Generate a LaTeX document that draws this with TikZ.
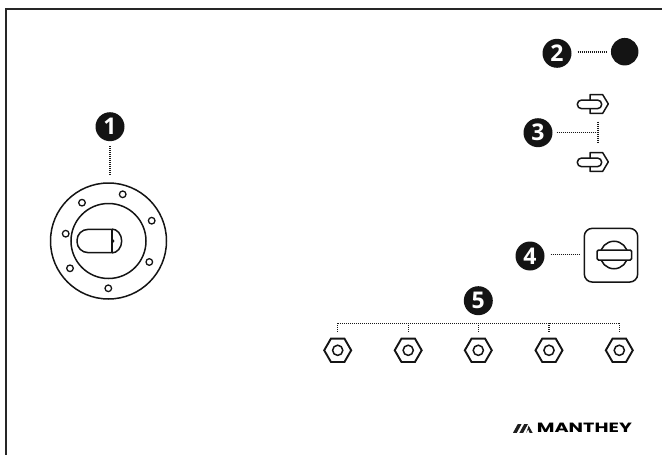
\documentclass[tikz,border=0pt]{standalone}
\usepackage{fontspec}
\setmainfont{Open Sans}
\newfontfamily\logofont{Poppins}
\usetikzlibrary{shapes.geometric}
\tikzset{
  x=1pt,y=-1pt,
  ink/.style={draw=black!92,line width=1.5pt},
  badge/.style={circle,fill=black!92,text=white,minimum size=29pt,inner sep=0pt,font=\fontsize{23}{23}\selectfont\bfseries},
  dots/.style={draw=black!90,line width=1.05pt,dash pattern=on 1pt off 1pt},
  hole/.style={circle,ink,line width=1.3pt,fill=white,minimum size=6.6pt,inner sep=0pt},
  nut/.style={regular polygon,regular polygon sides=6,ink,line width=1.9pt,minimum size=27pt,inner sep=0pt},
  nuteye/.style={circle,ink,minimum size=10.2pt,inner sep=0pt},
  disc/.style={circle,ink,minimum size=#1,inner sep=0pt}
}
\newcommand{\boltshape}[1]{%
  \draw[ink,line join=round,shift={(0,#1)}] (590,100) -- (590,94.7) -- (602.7,94.7) -- (608.3,103.9) -- (602.7,113.3) -- (590,113.3) -- (590,108.7);
  \draw[ink,rounded corners=4.3pt,shift={(0,#1)}] (577.3,100) rectangle (601.7,108.7);
}
\begin{document}
\begin{tikzpicture}
\useasboundingbox (0,0) rectangle (662,455);
% page frame
\draw[draw=black!85,line width=1.2pt] (6,455) -- (6,9) -- (662,9);

% item 1
\node[disc=116pt] (outer) at (108.5,241) {};
\node[disc=75pt] (inner) at (108.5,241) {};
\foreach \n/\px/\py in {a/122.7/194.3,b/82/202.7,c/151.7/220.7,d/65.7/233.7,e/149.3/262,f/70/268.3,g/108.3/288.3}
  \node[hole] (h\n) at (\px,\py) {};
\draw[ink] (111.7,229) arc[start angle=90,end angle=-90,x radius=10pt,y radius=12pt];
\draw[ink,rounded corners=11pt] (111.7,229.4) -- (77,229.4) -- (77,252.6) -- (111.7,252.6);
\draw[black!92,line width=1.9pt] (111.7,229) -- (111.7,253);
\fill[black!92] (111.7,237.5) -- (114.5,241) -- (111.7,244.5) -- cycle;
\node[badge] (b1) at (110,126.7) {1};
\coordinate (c1) at (110,176);
\draw[dots,shorten <=5pt] (b1) -- (c1);

% item 2
\node[badge] (b2) at (557,53.3) {2};
\node[circle,fill=black!92,minimum size=27.5pt,inner sep=0pt] (dot) at (624.7,51.7) {};
\coordinate (c2) at (606,52);
\draw[dots,shorten <=6pt] (b2.east |- c2) -- (c2);

% item 3
\boltshape{0}
\boltshape{58}
\node[badge] (b3) at (538,132.7) {3};
\coordinate (c3) at (598,132.7);
\coordinate (c3a) at (598,121.7);
\coordinate (c3b) at (598,143);
\draw[dots,shorten <=4pt] (b3) -- (c3);
\draw[dots] (c3a) -- (c3b);

% item 4
\node[badge] (b4) at (530,256) {4};
\node[draw=black!92,line width=1.5pt,rounded corners=8pt,minimum width=53.4pt,minimum height=53.7pt,inner sep=0pt] (plate) at (611,255.2) {};
\node[disc=27.5pt] (knob) at (614,255) {};
\draw[ink,fill=white,rounded corners=1.5pt] (597,250) rectangle (631.7,260);
\coordinate (c4) at (579,254.7);
\draw[dots,shorten <=6pt] (b4.east |- c4) -- (c4);

% item 5
\node[badge] (b5) at (478.3,300.7) {5};
\coordinate (busl) at (338,323.3);
\coordinate (busr) at (619.5,323.3);
\draw[dots] (busl) -- (busr);
\foreach \i/\px in {1/337.7,2/408.2,3/478.3,4/549,5/619.3}{
  \node[nut] (nut\i) at (\px,350.3) {};
  \node[nuteye] (eye\i) at (\px,350.3) {};
  \coordinate (t\i) at (\px,323.3);
  \draw[dots,shorten >=6pt] (t\i) -- (nut\i);
}

% logo
\fill[black!88] (513,432.8) -- (516.8,432.8) -- (521.6,424) -- (517.8,424) -- cycle;
\fill[black!88] (519.4,432.8) -- (523.2,432.8) -- (528,424) -- (524.2,424) -- cycle;
\fill[black!88] (526.3,432.8) -- (528.2,429.4) -- (529.6,432.8) -- (532.6,432.8) -- (528.6,425.6) -- cycle;
\node[inner sep=0pt,anchor=west] (logo) at (536.7,428) {\resizebox{95pt}{9.4pt}{\logofont\fontseries{sb}\selectfont MANTHEY}};
\end{tikzpicture}
\end{document}
